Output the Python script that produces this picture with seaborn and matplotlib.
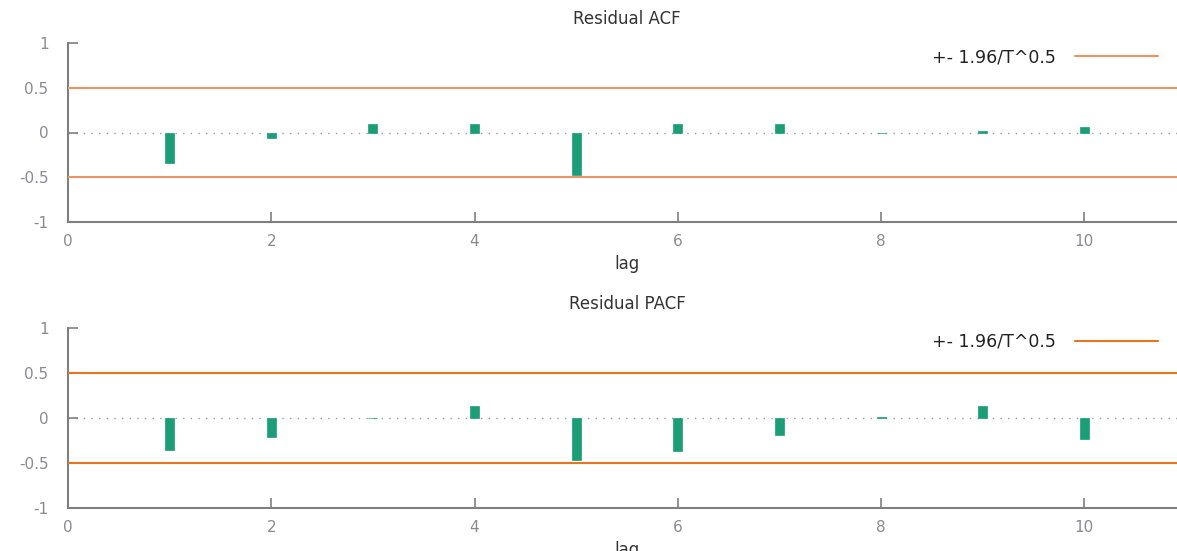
import matplotlib
matplotlib.use("Agg")
import matplotlib.pyplot as plt
import seaborn as sns
import pandas as pd
from matplotlib.lines import Line2D

lags = [1, 2, 3, 4, 5, 6, 7, 8, 9, 10]
acf_vals = [-0.34, -0.06, 0.10, 0.09, -0.48, 0.10, 0.10, -0.01, 0.02, 0.065]
pacf_vals = [-0.35, -0.21, -0.005, 0.13, -0.465, -0.37, -0.185, 0.01, 0.13, -0.23]
bound = 0.5
titles = ["Residual ACF", "Residual PACF"]
legend_label = "+- 1.96/T^0.5"
ytick_vals = [-1, -0.5, 0, 0.5, 1]
ytick_labels = ["-1", "-0.5", "0", "0.5", "1"]
xtick_vals = [0, 2, 4, 6, 8, 10]
xtick_labels = ["0", "2", "4", "6", "8", "10"]

sns.set_style("white")
plt.rcParams['font.family'] = ['DejaVu Sans']

W, H = 1177, 551
fig = plt.figure(figsize=(W / 100, H / 100), dpi=100)

bar_color = "#1b9e77"
line_colors = ["#ea9462", "#e8741f"]
axis_color = "#7f7f7f"
tick_text = "#8a8a96"

# (top_px, bottom_px)
panels = [(43, 222), (328, 508)]
left_px, right_px = 68, 1186

for i, (vals, (tp, bp)) in enumerate(zip([acf_vals, pacf_vals], panels)):
    ax = fig.add_axes([left_px / W, 1 - bp / H, (right_px - left_px) / W, (bp - tp) / H])
    df = pd.DataFrame({"lag": lags, "value": vals})
    sns.barplot(data=df, x="lag", y="value", native_scale=True, width=0.09,
                color=bar_color, saturation=1, edgecolor=bar_color, linewidth=0.5, ax=ax)
    ax.axhline(0, color="#9a9a9a", lw=1, ls=(0, (1, 4.5)), zorder=0)
    ax.axhline(bound, color=line_colors[i], lw=1.5, zorder=3)
    ax.axhline(-bound, color=line_colors[i], lw=1.5, zorder=3)
    ax.set_xlim(0, 11)
    ax.set_ylim(-1, 1)
    ax.set_yticks(ytick_vals)
    ax.set_yticklabels(ytick_labels)
    ax.set_xticks(xtick_vals)
    ax.set_xticklabels(xtick_labels)
    for s in ["top", "right"]:
        ax.spines[s].set_visible(False)
    for s in ["left", "bottom"]:
        ax.spines[s].set_color(axis_color)
        ax.spines[s].set_linewidth(1.5)
    ax.tick_params(axis="both", direction="in", length=7, width=1.2, color=axis_color,
                   labelcolor=tick_text, labelsize=11, bottom=True, left=True)
    ax.tick_params(axis="y", pad=14)
    ax.tick_params(axis="x", pad=9)
    ax.set_xlabel("lag", fontsize=12, color="#333333", labelpad=4)
    ax.set_ylabel("")
    ax.set_title(titles[i], fontsize=12, color="#333333", pad=14)
    handle = Line2D([0], [0], color=line_colors[i], lw=1.5)
    leg = ax.legend([handle], [legend_label], loc="center right",
                    bbox_to_anchor=((1158 - left_px) / (right_px - left_px),
                                    (bp - (tp + 14)) / (bp - tp)),
                    frameon=False, markerfirst=False, handlelength=4.8,
                    handletextpad=1.1, fontsize=12.5, borderpad=0, borderaxespad=0)
    for t in leg.get_texts():
        t.set_color("#222222")
    ax.patch.set_alpha(0)

fig.savefig("out.png", dpi=100)
